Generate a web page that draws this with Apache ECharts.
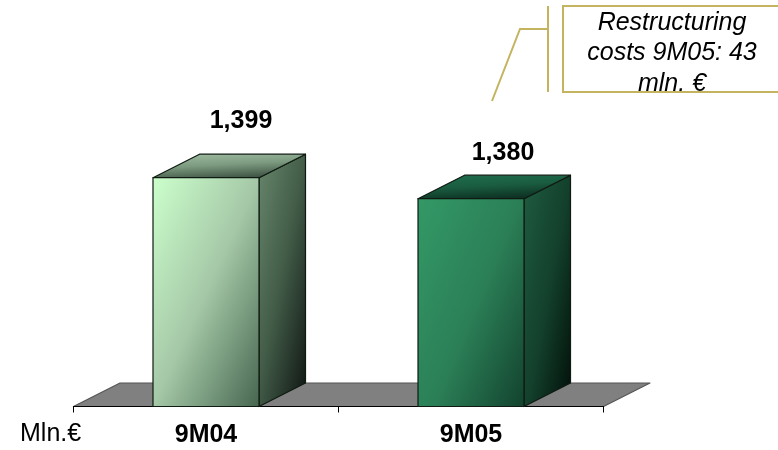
<!DOCTYPE html>
<html>
<head>
<meta charset="utf-8">
<style>html,body{margin:0;padding:0;background:#fff}#chart{width:778px;height:450px}</style>
<script src="https://cdn.jsdelivr.net/npm/echarts@6/dist/echarts.min.js"></script>
</head>
<body>
<div id="chart"></div>
<script>
// Nine-month figures, in millions of euro
const periods = ['9M04', '9M05'];
const revenue = [1399, 1380];
const valueLabels = ['1,399', '1,380'];
const unitLabel = 'Mln.€';
const noteLines = ['Restructuring', 'costs 9M05: 43', 'mln. €'];

const FONT = '"Liberation Sans", Arial, sans-serif';
const AXIS_MIN = 1192;
const AXIS_MAX = 1400;
const DEPTH_X = 46.5;
const DEPTH_Y = -23.5;
const BAR_SHARE = 0.4;
const NOTE_COLOR = '#c4b35f';

// Label placement relative to the front-top corner centre of each column
const labelShift = [[35, -57], [32, -46]];

// One shade set per column: front, side and top faces
const faces = [
  {
    front: [[0, '#ccffcc'], [0.5, '#a5c8a7'], [1, '#46664f']],
    side: [[0, '#68876c'], [0.5, '#425c48'], [1, '#121915']],
    top: [[0, '#a3c0a5'], [0.5, '#7c9a7f'], [1, '#3a4f40']]
  },
  {
    front: [[0, '#339966'], [0.5, '#2b7f57'], [1, '#0f3a28']],
    side: [[0, '#1f5c40'], [0.5, '#13402c'], [1, '#000a05']],
    top: [[0, '#20704f'], [0.5, '#1a5c40'], [1, '#0c2c20']]
  }
];

// Gradient directions in each face's bounding box
const FRONT_DIR = [1.64, 0.355];
const SIDE_DIR = [1.92, 0.073];
const TOP_DIR = [0.01, 1.2];

function shade(stops, dir) {
  const list = stops.map(s => ({ offset: s[0], color: s[1] }));
  return new echarts.graphic.LinearGradient(0, 0, dir[0], dir[1], list);
}

function poly(points, fill, stroke, z2) {
  return {
    type: 'polygon',
    z2: z2,
    shape: { points: points },
    style: { fill: fill, stroke: stroke, lineWidth: 1.2, lineJoin: 'round' }
  };
}

// Grey slab under the columns, spanning the full category axis
function renderFloor(params, api) {
  const cs = params.coordSys;
  const y = cs.y + cs.height;
  const l = cs.x, r = cs.x + cs.width;
  return poly([[l, y], [l + DEPTH_X, y + DEPTH_Y], [r + DEPTH_X, y + DEPTH_Y], [r, y]],
    '#808080', '#555555', 0);
}

// Extruded column: front, right side and top faces plus its value label
function renderColumn(params, api) {
  const i = params.dataIndex;
  const top = api.coord([api.value(0), api.value(1)]);
  const base = api.coord([api.value(0), AXIS_MIN]);
  const w = api.size([1, 0])[0] * BAR_SHARE;
  const l = top[0] - w / 2, r = top[0] + w / 2;
  const t = top[1], b = base[1];
  const f = faces[i];
  const edge = '#0f1a12';
  return {
    type: 'group',
    children: [
      poly([[l, t], [r, t], [r, b], [l, b]], shade(f.front, FRONT_DIR), edge, 3),
      poly([[r, t], [r + DEPTH_X, t + DEPTH_Y], [r + DEPTH_X, b + DEPTH_Y], [r, b]], shade(f.side, SIDE_DIR), edge, 2),
      poly([[l, t], [l + DEPTH_X, t + DEPTH_Y], [r + DEPTH_X, t + DEPTH_Y], [r, t]], shade(f.top, TOP_DIR), edge, 2),
      {
        type: 'text',
        z2: 5,
        style: {
          x: top[0] + labelShift[i][0],
          y: t + labelShift[i][1],
          text: valueLabels[i],
          fill: '#000',
          font: 'bold 25px ' + FONT,
          align: 'center',
          verticalAlign: 'middle'
        }
      }
    ]
  };
}

const chart = echarts.init(document.getElementById('chart'), null, { renderer: 'canvas' });
chart.setOption({
  animation: false,
  backgroundColor: '#ffffff',
  grid: { left: 73.5, right: 174.5, top: 176.6, bottom: 43.5 },
  xAxis: {
    type: 'category',
    data: periods,
    z: 4,
    axisLine: { lineStyle: { color: '#000', width: 1.2 } },
    axisTick: { show: true, length: 6, lineStyle: { color: '#000', width: 1 } },
    axisLabel: {
      color: '#000',
      fontFamily: FONT,
      fontWeight: 'bold',
      fontSize: 25,
      margin: 16
    }
  },
  yAxis: { type: 'value', min: AXIS_MIN, max: AXIS_MAX, show: false },
  series: [
    {
      type: 'custom',
      clip: false,
      z: 1,
      renderItem: renderFloor,
      data: [[0, AXIS_MIN]],
      encode: { x: 0, y: 1 }
    },
    {
      type: 'custom',
      clip: false,
      z: 5,
      renderItem: renderColumn,
      data: periods.map((p, i) => [i, revenue[i]]),
      encode: { x: 0, y: 1 }
    }
  ],
  graphic: [
    {
      type: 'text',
      left: 20,
      top: 422,
      style: { text: unitLabel, fill: '#000', font: '25px ' + FONT }
    },
    {
      type: 'polyline',
      shape: { points: [[548, 29], [520, 29], [492, 101]] },
      style: { stroke: NOTE_COLOR, lineWidth: 2, fill: null }
    },
    {
      type: 'line',
      shape: { x1: 548, y1: 6, x2: 548, y2: 92 },
      style: { stroke: NOTE_COLOR, lineWidth: 2 }
    },
    {
      type: 'rect',
      shape: { x: 563, y: 6, width: 230, height: 86 },
      style: { fill: '#fff', stroke: NOTE_COLOR, lineWidth: 2 }
    },
    ...noteLines.map((line, i) => ({
      type: 'text',
      style: {
        x: 672,
        y: 23 + i * 30.5,
        text: line,
        fill: '#000',
        font: 'italic 25px ' + FONT,
        align: 'center',
        verticalAlign: 'middle'
      }
    }))
  ]
});
</script>
</body>
</html>
